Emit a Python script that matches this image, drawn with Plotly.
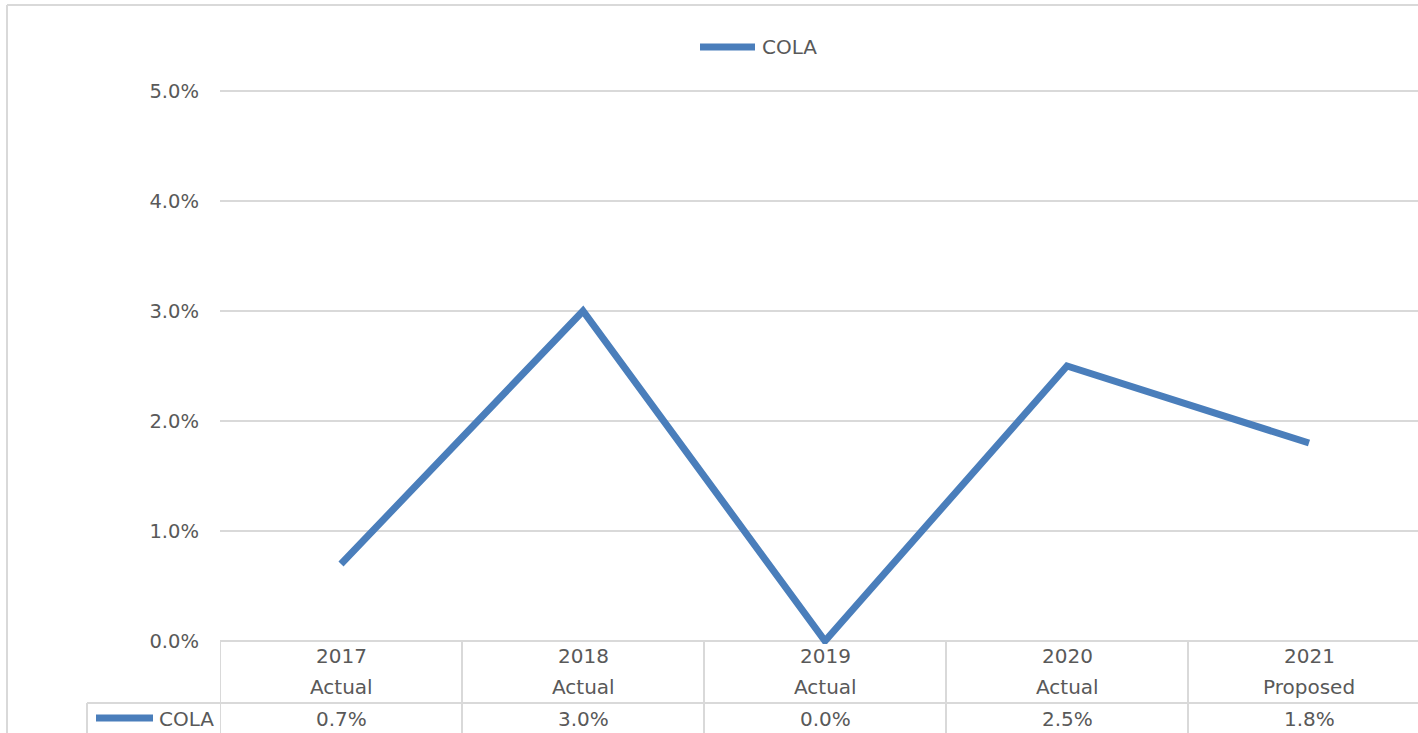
import plotly.graph_objects as go

# Cost-of-living adjustment by fiscal year
years = ["2017", "2018", "2019", "2020", "2021"]
status = ["Actual", "Actual", "Actual", "Actual", "Proposed"]
cola = [0.007, 0.030, 0.000, 0.025, 0.018]
y_ticks = [0.0, 0.01, 0.02, 0.03, 0.04, 0.05]
series_name = "COLA"

W, H = 1418, 733
PX_PER_UNIT = 11000          # 110 px for each 1 %
PAD_PX = 3                   # headroom so the edge gridlines are drawn
PAD = PAD_PX / PX_PER_UNIT
ML, MR, MT, MB = 220, 0, 91 - PAD_PX, 92 - PAD_PX
PW, PH = W - ML - MR, H - MT - MB
COL = 242  # pixel width of one category column
BLUE = "#4a7ebb"
GRID = "#d9d9d9"
TXT = "#595959"
FONT = "DejaVu Sans"


def px(x):
    """figure pixel x -> paper x"""
    return (x - ML) / PW


def py(y):
    """figure pixel y -> paper y"""
    return (H - MB - y) / PH


xs = list(range(len(years)))

fig = go.Figure()
fig.add_trace(go.Scatter(
    x=xs, y=cola, mode="lines", name=series_name,
    line=dict(color=BLUE, width=7), showlegend=False,
))

shapes = []
annotations = []

# outer chart border (top and left edges)
shapes.append(dict(type="line", xref="paper", yref="paper",
                   x0=px(7), x1=px(W + 5), y0=py(5), y1=py(5),
                   line=dict(color=GRID, width=2)))
shapes.append(dict(type="line", xref="paper", yref="paper",
                   x0=px(7), x1=px(7), y0=py(5), y1=py(H + 5),
                   line=dict(color=GRID, width=2)))

# data table grid
row_y = 703
top_y = 641
shapes.append(dict(type="line", xref="paper", yref="paper",
                   x0=px(87), x1=px(W + 5), y0=py(row_y), y1=py(row_y),
                   line=dict(color=GRID, width=2)))
shapes.append(dict(type="line", xref="paper", yref="paper",
                   x0=px(87), x1=px(87), y0=py(row_y), y1=py(H + 5),
                   line=dict(color=GRID, width=2)))
for i in range(len(years)):
    shapes.append(dict(type="line", xref="x", yref="paper",
                       x0=i - 0.5, x1=i - 0.5, y0=py(top_y), y1=py(H + 5),
                       line=dict(color=GRID, width=2)))

# table header and value rows
for i, (yr, st, v) in enumerate(zip(years, status, cola)):
    annotations.append(dict(x=i, y=py(656), xref="x", yref="paper", text=yr,
                            showarrow=False, yanchor="middle",
                            font=dict(family=FONT, size=20, color=TXT)))
    annotations.append(dict(x=i, y=py(687), xref="x", yref="paper", text=st,
                            showarrow=False, yanchor="middle",
                            font=dict(family=FONT, size=20, color=TXT)))
    annotations.append(dict(x=i, y=py(719), xref="x", yref="paper",
                            text=f"{v:.1%}", showarrow=False, yanchor="middle",
                            font=dict(family=FONT, size=20, color=TXT)))

# legend key inside the table's label cell
shapes.append(dict(type="line", xref="paper", yref="paper",
                   x0=px(96), x1=px(153), y0=py(718), y1=py(718),
                   line=dict(color=BLUE, width=7)))
annotations.append(dict(x=px(157), y=py(719), xref="paper", yref="paper",
                        text=series_name, showarrow=False, xanchor="left",
                        yanchor="middle",
                        font=dict(family=FONT, size=20, color=TXT)))

# legend above the plot
shapes.append(dict(type="line", xref="paper", yref="paper",
                   x0=px(700), x1=px(755), y0=py(47), y1=py(47),
                   line=dict(color=BLUE, width=7)))
annotations.append(dict(x=px(760), y=py(47), xref="paper", yref="paper",
                        text=series_name, showarrow=False, xanchor="left",
                        yanchor="middle",
                        font=dict(family=FONT, size=20, color=TXT)))

fig.update_layout(
    width=W, height=H,
    margin=dict(l=ML, r=MR, t=MT, b=MB, pad=0),
    paper_bgcolor="white", plot_bgcolor="white",
    showlegend=False,
    shapes=shapes, annotations=annotations,
    xaxis=dict(range=[-0.5, -0.5 + PW / COL], showgrid=False, zeroline=False,
               showticklabels=False, showline=False, fixedrange=True),
    yaxis=dict(range=[-PAD, 0.05 + PAD], tickvals=y_ticks, tickformat=".1%",
               showgrid=True, gridcolor=GRID, gridwidth=1.5, zeroline=False,
               showline=False, ticks="", ticklabelstandoff=20,
               tickfont=dict(family=FONT, size=19.5, color=TXT),
               fixedrange=True),
)

fig.write_html("out.html")
